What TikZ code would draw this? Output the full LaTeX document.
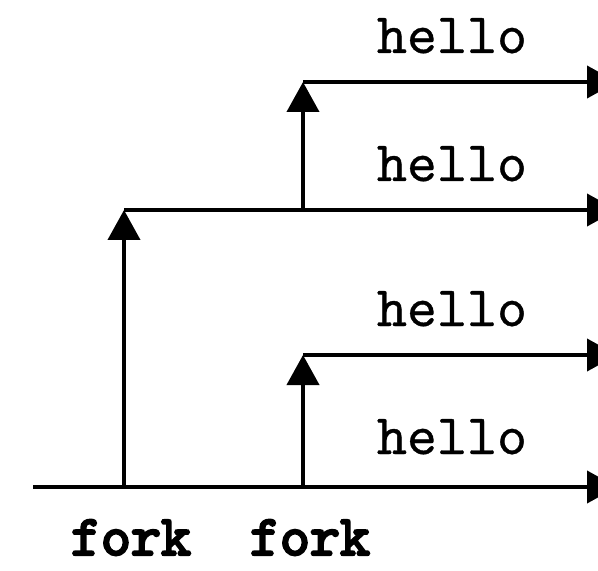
\documentclass[tikz,border=0pt]{standalone}
\usepackage{fontspec}
\newfontfamily\hellofont[FakeBold=0.6]{lmmono10-regular.otf}
\newfontfamily\forkfont[FakeBold=4]{lmmono10-regular.otf}
\usetikzlibrary{arrows.meta}
\begin{document}
\begin{tikzpicture}[x=0.5pt,y=-0.5pt,
  flow/.style={line width=2pt,-{Triangle[length=15pt,width=16pt]}},
  lbl/.style={font=\hellofont\fontsize{28.6}{32}\selectfont,anchor=base,inner sep=0pt},
  fk/.style={font=\forkfont\fontsize{28.6}{32}\selectfont,anchor=base,inner sep=0pt}]
\useasboundingbox (0,0) rectangle (598,571);
\coordinate (s) at (33,487);
\coordinate (e0) at (617,487);
\coordinate (a) at (124,487);
\coordinate (at) at (124,210);
\coordinate (e1) at (617,210);
\coordinate (b) at (303,210);
\coordinate (bt) at (303,82);
\coordinate (e2) at (617,82);
\coordinate (c) at (303,487);
\coordinate (ct) at (303,355);
\coordinate (e3) at (617,355);
\draw[flow] (s) -- (e0);
\draw[flow] (a) -- (at);
\draw[flow] (at) -- (e1);
\draw[flow] (b) -- (bt);
\draw[flow] (bt) -- (e2);
\draw[flow] (c) -- (ct);
\draw[flow] (ct) -- (e3);
\node[lbl] (h1) at (452,53) {hello};
\node[lbl] (h2) at (452,181) {hello};
\node[lbl] (h3) at (452,326) {hello};
\node[lbl] (h4) at (452,454) {hello};
\node[fk] (f1) at (131,555) {fork};
\node[fk] (f2) at (310,555) {fork};
\end{tikzpicture}
\end{document}
